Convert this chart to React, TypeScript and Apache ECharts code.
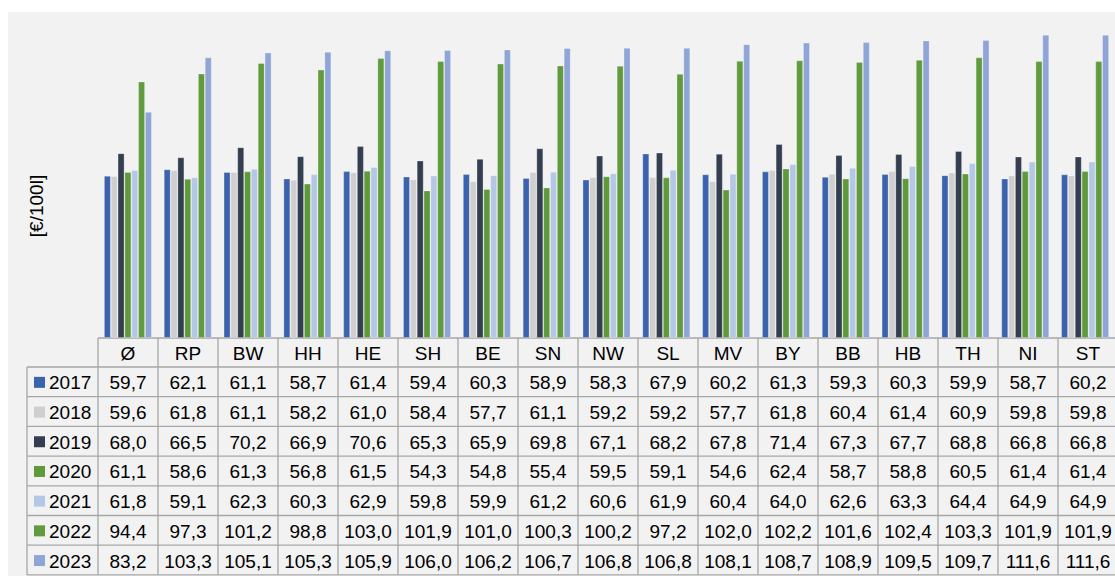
import React, { useEffect, useRef } from "react";
import * as echarts from "echarts";

// Regions (Ø = national average)
const categories = ["Ø", "RP", "BW", "HH", "HE", "SH", "BE", "SN", "NW", "SL", "MV", "BY", "BB", "HB", "TH", "NI", "ST"];

const years = ["2017", "2018", "2019", "2020", "2021", "2022", "2023"];

const v2017 = [59.7, 62.1, 61.1, 58.7, 61.4, 59.4, 60.3, 58.9, 58.3, 67.9, 60.2, 61.3, 59.3, 60.3, 59.9, 58.7, 60.2];
const v2018 = [59.6, 61.8, 61.1, 58.2, 61.0, 58.4, 57.7, 61.1, 59.2, 59.2, 57.7, 61.8, 60.4, 61.4, 60.9, 59.8, 59.8];
const v2019 = [68.0, 66.5, 70.2, 66.9, 70.6, 65.3, 65.9, 69.8, 67.1, 68.2, 67.8, 71.4, 67.3, 67.7, 68.8, 66.8, 66.8];
const v2020 = [61.1, 58.6, 61.3, 56.8, 61.5, 54.3, 54.8, 55.4, 59.5, 59.1, 54.6, 62.4, 58.7, 58.8, 60.5, 61.4, 61.4];
const v2021 = [61.8, 59.1, 62.3, 60.3, 62.9, 59.8, 59.9, 61.2, 60.6, 61.9, 60.4, 64.0, 62.6, 63.3, 64.4, 64.9, 64.9];
const v2022 = [94.4, 97.3, 101.2, 98.8, 103.0, 101.9, 101.0, 100.3, 100.2, 97.2, 102.0, 102.2, 101.6, 102.4, 103.3, 101.9, 101.9];
const v2023 = [83.2, 103.3, 105.1, 105.3, 105.9, 106.0, 106.2, 106.7, 106.8, 106.8, 108.1, 108.7, 108.9, 109.5, 109.7, 111.6, 111.6];

const seriesValues = [v2017, v2018, v2019, v2020, v2021, v2022, v2023];
const colors = ["#3b63ad", "#d0cece", "#333f50", "#5e9a3b", "#b4c7e7", "#629b3e", "#8fa5d6"];

const unitLabel = "[€/100l]";

// Layout of the plot area and the data table beneath it
const GRID_LEFT = 98;
const GRID_TOP = 12;
const COL_W = 60;
const GRID_H = 326;
const HEADER_BOTTOM = 367;
const ROW_H = 29.7;
const LEGEND_LEFT = 27;
const FONT = "'Liberation Sans', Arial, sans-serif";
const FONT_SIZE = 19;
const LINE_COLOR = "#a6a6a6";

const fmt = (v: number) => v.toFixed(1).replace(".", ",");

export default function App() {
  const ref = useRef<HTMLDivElement>(null);

  useEffect(() => {
    document.body.style.margin = "0";
    if (!ref.current) return;
    const chart = echarts.init(ref.current, null, { renderer: "svg" });

    const tableTop = GRID_TOP + GRID_H;
    const tableRight = GRID_LEFT + COL_W * categories.length;
    const bottom = HEADER_BOTTOM + ROW_H * years.length;
    const g: any[] = [];

    // background panel
    g.push({
      type: "rect",
      z: -10,
      silent: true,
      shape: { x: 8, y: 12, width: 1115, height: 576 },
      style: { fill: "#f2f2f2" },
    });

    // unit label
    g.push({
      type: "text",
      x: 36,
      y: 206,
      rotation: Math.PI / 2,
      style: {
        text: unitLabel,
        font: `${FONT_SIZE}px ${FONT}`,
        fill: "#000",
        align: "center",
        verticalAlign: "middle",
      },
    });

    // table grid lines
    const line = (x1: number, y1: number, x2: number, y2: number) =>
      g.push({
        type: "line",
        silent: true,
        shape: { x1, y1, x2, y2 },
        style: { stroke: LINE_COLOR, lineWidth: 1.3 },
      });

    line(GRID_LEFT, tableTop, tableRight, tableTop);
    for (let r = 0; r <= years.length; r++) {
      const y = HEADER_BOTTOM + ROW_H * r;
      line(LEGEND_LEFT, y, tableRight, y);
    }
    line(LEGEND_LEFT, HEADER_BOTTOM, LEGEND_LEFT, bottom);
    for (let c = 0; c <= categories.length; c++) {
      const x = GRID_LEFT + COL_W * c;
      line(x, tableTop, x, bottom);
    }

    // header row
    categories.forEach((cat, c) => {
      g.push({
        type: "text",
        x: GRID_LEFT + COL_W * c + COL_W / 2,
        y: (tableTop + HEADER_BOTTOM) / 2 + 1,
        style: {
          text: cat,
          font: `${FONT_SIZE}px ${FONT}`,
          fill: "#000",
          align: "center",
          verticalAlign: "middle",
        },
      });
    });

    // legend keys and values
    years.forEach((yr, r) => {
      const cy = HEADER_BOTTOM + ROW_H * r + ROW_H / 2 + 1;
      g.push({
        type: "rect",
        shape: { x: 34, y: cy - 6, width: 11, height: 11 },
        style: { fill: colors[r] },
      });
      g.push({
        type: "text",
        x: 49,
        y: cy,
        style: {
          text: yr,
          font: `${FONT_SIZE}px ${FONT}`,
          fill: "#000",
          align: "left",
          verticalAlign: "middle",
        },
      });
      seriesValues[r].forEach((v, c) => {
        g.push({
          type: "text",
          x: GRID_LEFT + COL_W * c + COL_W / 2,
          y: cy,
          style: {
            text: fmt(v),
            font: `${FONT_SIZE}px ${FONT}`,
            fill: "#000",
            align: "center",
            verticalAlign: "middle",
          },
        });
      });
    });

    chart.setOption({
      animation: false,
      backgroundColor: "#ffffff",
      grid: { left: GRID_LEFT, top: GRID_TOP, width: COL_W * categories.length, height: GRID_H },
      xAxis: {
        type: "category",
        data: categories,
        axisLine: { show: false },
        axisTick: { show: false },
        axisLabel: { show: false },
      },
      yAxis: {
        type: "value",
        min: 0,
        max: 120,
        show: false,
        splitLine: { show: false },
      },
      series: years.map((yr, i) => ({
        name: yr,
        type: "bar",
        data: seriesValues[i],
        barGap: "0%",
        barCategoryGap: "20%",
        itemStyle: {
          color: colors[i],
          borderColor: "rgba(255,255,255,0.35)",
          borderWidth: 0.8,
        },
      })),
      graphic: g,
    });

    return () => chart.dispose();
  }, []);

  return <div ref={ref} style={{ width: 1115, height: 576 }} />;
}
